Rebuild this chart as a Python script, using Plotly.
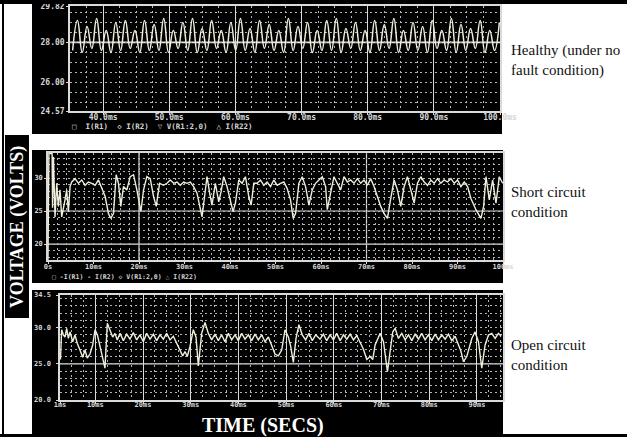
import numpy as np
import plotly.graph_objects as go

W, H = 627, 443

# ---------------- data ----------------
# Panel 1 - healthy: ripple peaks and troughs (V) over the 35-100 ms window
p1_troughs = [27.6, 27.5, 27.7, 27.6, 27.5, 27.6, 27.7, 27.5, 27.6,
              27.6, 27.5, 27.7, 27.6, 27.5, 27.6, 27.7, 27.5, 27.6,
              27.6, 27.5, 27.7, 27.6, 27.5, 27.6, 27.7, 27.5, 27.6,
              27.6, 27.5, 27.7, 27.6, 27.5, 27.6, 27.7, 27.5, 27.6,
              27.6, 27.5, 27.7, 27.6, 27.5, 27.6, 27.7, 27.5, 27.6]
p1_peaks = [29.1, 28.8, 29.2, 28.6, 29.0, 29.1, 28.6, 29.1, 28.9,
            29.2, 28.6, 29.0, 29.2, 28.7, 29.1, 28.6, 29.0, 29.2,
            28.7, 29.1, 28.9, 28.6, 29.2, 28.8, 29.0, 28.6, 29.1,
            29.2, 28.7, 29.0, 28.6, 29.1, 28.9, 29.2, 28.6, 29.0,
            28.8, 29.1, 28.6, 29.2, 28.9, 28.7, 29.1, 28.6, 29.0]
p1_window_ms = [35.4, 99.9]
p1_xrange = [35, 100]
p1_yrange = [24.57, 29.82]
p1_xticks = [40, 50, 60, 70, 80, 90, 100]
p1_xticktext = ["40.0ms", "50.0ms", "60.0ms", "70.0ms", "80.0ms", "90.0ms", "100.0ms"]
p1_yticks = [24.57, 26.0, 28.0, 29.82]
p1_yticktext = ["24.57", "26.00", "28.00", "29.82"]
p1_solid_levels = [28.0]
p1_legend = "□  I(R1)  ◇ I(R2)  ▽ V(R1:2,0)  △ I(R22)"

# Panel 2 - short circuit (time ms, voltage V)
p2_t = [0.0, 0.2, 0.9, 1.0, 1.2, 1.35, 1.54, 1.91, 2.28, 2.64,
        3.01, 3.74, 4.11, 4.48, 4.85, 5.21, 5.95, 6.68, 7.42, 8.15,
        8.88, 9.62, 10.35, 11.09, 11.82, 12.56, 13.29, 13.80, 14.39, 14.98,
        15.49, 16.00, 16.59, 17.33, 18.06, 18.80, 19.53, 20.12, 20.41, 21.00,
        21.73, 22.47, 23.20, 23.79, 24.52, 25.40, 26.14, 26.87, 27.61, 28.34,
        29.07, 29.81, 30.54, 31.28, 32.01, 32.75, 33.33, 33.85, 34.36, 34.95,
        35.53, 36.04, 36.78, 37.52, 38.03, 38.62, 39.35, 40.09, 40.67, 41.19,
        41.92, 42.66, 43.39, 44.13, 44.64, 45.23, 45.96, 46.70, 47.43, 48.17,
        48.90, 49.63, 50.37, 51.10, 51.84, 52.57, 53.30, 53.89, 54.41, 55.14,
        55.87, 56.61, 57.34, 58.08, 58.81, 59.54, 60.28, 61.01, 61.38, 62.11,
        62.85, 63.58, 64.32, 65.05, 65.79, 66.52, 67.25, 67.99, 68.72, 69.46,
        70.19, 70.93, 71.66, 72.39, 73.13, 73.86, 74.60, 75.33, 76.07, 76.80,
        77.53, 78.27, 79.00, 79.74, 80.47, 81.20, 81.94, 82.67, 83.41, 84.14,
        84.88, 85.61, 86.34, 87.08, 87.81, 88.55, 89.28, 90.02, 90.75, 91.48,
        92.22, 92.95, 94.05, 95.15, 95.74, 96.26, 96.99, 97.72, 98.46, 99.19,
        99.93]
p2_v = [17.6, 33.7, 33.7, 25.5, 33.2, 28.0, 24.1, 29.2, 25.7, 28.2,
        24.1, 26.7, 28.2, 24.9, 28.7, 29.4, 29.9, 29.2, 29.7, 28.9,
        29.4, 29.2, 28.9, 29.7, 28.4, 27.2, 24.6, 23.9, 24.6, 30.5,
        29.2, 25.7, 28.7, 28.2, 30.2, 30.5, 28.2, 26.2, 24.9, 28.2,
        30.2, 29.9, 27.2, 25.7, 29.2, 28.9, 29.2, 29.7, 29.2, 29.4,
        28.9, 29.4, 29.2, 29.4, 28.7, 27.7, 25.7, 24.1, 26.9, 30.2,
        27.7, 25.9, 29.2, 26.4, 27.9, 30.2, 28.7, 26.7, 24.9, 26.2,
        29.7, 29.2, 30.2, 27.2, 25.9, 29.2, 29.2, 29.7, 28.9, 29.4,
        28.7, 29.7, 28.9, 29.2, 29.4, 28.4, 26.7, 23.9, 24.6, 29.2,
        30.2, 28.7, 25.9, 28.2, 29.2, 29.7, 30.2, 28.7, 25.2, 27.7,
        30.2, 29.2, 28.2, 30.2, 29.4, 29.7, 29.2, 29.9, 29.2, 29.7,
        28.9, 29.9, 28.7, 27.2, 25.7, 24.6, 23.9, 26.9, 29.7, 28.2,
        25.7, 28.7, 30.2, 28.2, 26.2, 29.2, 30.2, 29.4, 28.9, 29.7,
        29.2, 29.9, 29.2, 29.7, 29.4, 29.9, 29.2, 29.7, 28.7, 29.4,
        28.7, 26.9, 25.2, 23.9, 25.7, 30.2, 26.7, 29.7, 26.2, 30.2,
        29.2]
p2_xrange = [0, 100]
p2_yrange = [17.58, 33.79]
p2_xticks = [0, 10, 20, 30, 40, 50, 60, 70, 80, 90, 100]
p2_xticktext = ["0s", "10ms", "20ms", "30ms", "40ms", "50ms", "60ms", "70ms", "80ms", "90ms", "100ms"]
p2_yticks = [20, 25, 30]
p2_yticktext = ["20", "25", "30"]
p2_solid_levels = [20, 25]
p2_solid_times = [20, 70]
p2_legend = "□ -I(R1) - I(R2) ◇ V(R1:2,0) △ I(R22)"

# Panel 3 - open circuit (time ms, voltage V)
p3_t = [2.7, 2.95, 3.30, 3.65, 4.00, 4.35, 4.70, 5.26, 5.74, 6.23,
        6.79, 7.35, 7.84, 8.32, 8.89, 9.45, 9.94, 10.43, 10.99, 11.55,
        12.03, 12.52, 13.08, 13.64, 14.13, 14.60, 15.18, 15.88, 16.58, 17.27,
        17.97, 18.67, 19.37, 20.07, 20.77, 21.47, 22.17, 22.87, 23.56, 24.26,
        24.96, 25.66, 26.36, 27.06, 27.76, 28.32, 28.81, 29.29, 29.85, 30.55,
        31.11, 31.60, 32.30, 33.00, 33.70, 34.40, 35.09, 35.79, 36.49, 37.19,
        37.89, 38.59, 39.29, 39.99, 40.69, 41.38, 42.08, 42.78, 43.48, 44.18,
        44.88, 45.58, 46.28, 46.97, 47.67, 48.37, 49.07, 49.77, 50.47, 50.96,
        51.52, 52.08, 52.69, 53.39, 54.09, 54.79, 55.49, 56.20, 57.11, 57.81,
        58.51, 59.22, 59.92, 60.62, 61.32, 62.02, 62.72, 63.42, 64.12, 64.81,
        65.51, 66.21, 66.91, 67.61, 68.17, 68.66, 69.71, 70.41, 70.83, 71.25,
        71.80, 72.36, 72.85, 73.55, 74.25, 74.95, 75.65, 76.35, 77.04, 77.74,
        78.44, 79.14, 79.84, 80.54, 81.24, 81.94, 82.64, 83.33, 84.03, 84.73,
        85.43, 86.13, 86.62, 87.18, 87.88, 88.93, 89.62, 90.32, 91.02, 91.72,
        92.42, 93.12, 93.82, 94.52, 95.08]
p3_v = [25.6, 29.7, 29.0, 28.7, 29.9, 28.5, 29.4, 28.05, 28.97, 27.8,
        26.9, 25.9, 26.9, 25.8, 26.35, 27.6, 29.7, 29.0, 27.4, 25.5,
        24.4, 30.6, 29.7, 28.7, 29.2, 28.3, 29.2, 28.2, 29.1, 28.4,
        29.3, 28.3, 29.0, 28.05, 29.2, 28.4, 29.1, 28.2, 29.0, 28.4,
        29.2, 28.3, 28.8, 27.8, 26.7, 26.1, 26.7, 26.0, 27.4, 29.7,
        28.7, 24.7, 29.2, 30.7, 29.2, 28.3, 29.1, 28.2, 29.0, 28.05,
        29.2, 28.3, 29.0, 28.2, 29.2, 28.4, 29.0, 28.2, 29.1, 28.3,
        29.0, 28.05, 28.7, 27.6, 26.35, 26.1, 26.9, 29.7, 28.7, 27.4,
        25.2, 28.5, 30.4, 29.0, 28.3, 29.2, 28.2, 29.0, 28.4, 29.1,
        28.2, 29.0, 28.3, 29.2, 28.2, 29.0, 28.4, 29.1, 28.3, 28.9,
        28.0, 27.0, 25.6, 26.0, 25.6, 27.6, 29.2, 28.05, 26.0, 23.9,
        26.7, 29.4, 29.9, 28.5, 29.2, 28.3, 29.0, 28.2, 29.1, 28.4,
        29.2, 28.3, 29.0, 28.2, 29.1, 28.3, 29.0, 28.4, 29.1, 28.2,
        28.8, 27.6, 26.8, 25.3, 26.0, 28.5, 29.4, 28.05, 24.4, 27.6,
        28.97, 29.2, 28.5, 29.2, 28.8]
p3_xrange = [2.6, 95.47]
p3_yrange = [20, 34.5]
p3_xticks = [2.6, 10, 20, 30, 40, 50, 60, 70, 80, 90]
p3_xticktext = ["1ms", "10ms", "20ms", "30ms", "40ms", "50ms", "60ms", "70ms", "80ms", "90ms"]
p3_yticks = [20, 25, 30, 34.5]
p3_yticktext = ["20.0", "25.0", "30.0", "34.5"]
p3_solid_levels = [25]

panel_labels = ["Healthy (under no<br>fault condition)",
                "Short circuit<br>condition",
                "Open circuit<br>condition"]
y_title = "VOLTAGE (VOLTS)"
x_title = "TIME (SECS)"

# ---------------- helpers ----------------
def px(x):
    return x / W

def py(y):
    return 1 - y / H

TRACE = "#efeedb"
GRID_MINOR = "#b4b4b4"
GRID_MAJOR = "#dadada"
TICKFONT = dict(family="DejaVu Sans Mono", size=8, color="#d6d6d6", weight="bold")
TICKFONT_S = dict(family="DejaVu Sans Mono", size=7, color="#d6d6d6", weight="bold")


def axis(rng, dom, tickvals, ticktext, minor_vals, font, anchor, major_grid=False, standoff=0):
    return dict(
        range=rng, domain=dom, anchor=anchor, tickmode="array", tickvals=tickvals, ticktext=ticktext,
        showgrid=major_grid, gridcolor=GRID_MAJOR, gridwidth=1,
        showline=True, mirror=True, linecolor=GRID_MAJOR, linewidth=1.5,
        zeroline=False, automargin=False, fixedrange=True,
        ticks="outside", ticklen=2, tickcolor=GRID_MAJOR, tickfont=font,
        ticklabelstandoff=standoff,
        minor=dict(tickmode="array", tickvals=list(minor_vals), showgrid=True,
                   gridcolor=GRID_MINOR, gridwidth=1, griddash="2px,3px", ticks=""),
    )


p1_v = []
for tr, pk in zip(p1_troughs, p1_peaks):
    p1_v += [tr, pk]
p1_t = np.linspace(p1_window_ms[0], p1_window_ms[1], len(p1_v))

fig = go.Figure()
fig.add_trace(go.Scatter(x=p1_t, y=p1_v, xaxis="x", yaxis="y", mode="lines",
                         line=dict(color=TRACE, width=1.5, shape="spline", smoothing=1.3),
                         hoverinfo="skip", showlegend=False))
fig.add_trace(go.Scatter(x=p2_t, y=p2_v, xaxis="x2", yaxis="y2", mode="lines",
                         line=dict(color=TRACE, width=1.4), hoverinfo="skip", showlegend=False))
fig.add_trace(go.Scatter(x=p3_t, y=p3_v, xaxis="x3", yaxis="y3", mode="lines",
                         line=dict(color=TRACE, width=1.4), hoverinfo="skip", showlegend=False))

fig.update_layout(
    width=W, height=H, margin=dict(l=0, r=0, t=0, b=0),
    paper_bgcolor="white", plot_bgcolor="black", showlegend=False,
    xaxis=axis(p1_xrange, [px(70), px(500)], p1_xticks, p1_xticktext,
               np.arange(35, 100.01, 2.5), TICKFONT, "y", major_grid=True, standoff=-4),
    yaxis=axis(p1_yrange, [py(111), py(6)], p1_yticks, p1_yticktext,
               np.arange(25.0, 29.81, 0.5), TICKFONT, "x", standoff=0),
    xaxis2=axis(p2_xrange, [px(48), px(503)], p2_xticks, p2_xticktext,
                np.arange(0, 100.1, 2), TICKFONT_S, "y2", standoff=-3),
    yaxis2=axis(p2_yrange, [py(260), py(153)], p2_yticks, p2_yticktext,
                np.arange(18, 33.6, 1), TICKFONT_S, "x2", standoff=0),
    xaxis3=axis(p3_xrange, [px(60), px(503)], p3_xticks, p3_xticktext,
                np.arange(5, 95.4, 2.5), TICKFONT_S, "y3", major_grid=True, standoff=-5),
    yaxis3=axis(p3_yrange, [py(400), py(295)], p3_yticks, p3_yticktext,
                np.arange(21, 34.4, 1), TICKFONT_S, "x3", standoff=4),
)

shapes = []


def rect(x0, y0, x1, y1, color="black", layer="below"):
    shapes.append(dict(type="rect", xref="paper", yref="paper",
                       x0=px(x0), x1=px(x1), y0=py(y1), y1=py(y0),
                       fillcolor=color, line=dict(width=0), layer=layer))


# panel backgrounds and outer frame
rect(32, 3, 502, 134)
rect(32, 150, 503, 283)
rect(32, 290, 503, 436)
rect(5, 135, 29, 318)
rect(0, 0, W, 4, layer="above")
rect(2, 0, 4, 437, layer="above")
rect(0, 434, W, 437, layer="above")

# solid reference grid lines
for lvl in p1_solid_levels:
    shapes.append(dict(type="line", xref="x", yref="y", x0=p1_xrange[0], x1=p1_xrange[1],
                       y0=lvl, y1=lvl, line=dict(color="#e6e6e6", width=1.6), layer="below"))
for lvl in p2_solid_levels:
    shapes.append(dict(type="line", xref="x2", yref="y2", x0=p2_xrange[0], x1=p2_xrange[1],
                       y0=lvl, y1=lvl, line=dict(color=GRID_MAJOR, width=1.2), layer="below"))
for t in p2_solid_times:
    shapes.append(dict(type="line", xref="x2", yref="y2", x0=t, x1=t,
                       y0=p2_yrange[0], y1=p2_yrange[1],
                       line=dict(color=GRID_MAJOR, width=1.2), layer="below"))
for lvl in p3_solid_levels:
    shapes.append(dict(type="line", xref="x3", yref="y3", x0=p3_xrange[0], x1=p3_xrange[1],
                       y0=lvl, y1=lvl, line=dict(color=GRID_MAJOR, width=1.2), layer="below"))
fig.update_layout(shapes=shapes)

ann = []
ann.append(dict(text=p1_legend, x=px(70), y=py(127), xref="paper", yref="paper",
                xanchor="left", yanchor="middle", showarrow=False,
                font=dict(family="DejaVu Sans Mono", size=7.5, color="#d6d6d6", weight="bold")))
ann.append(dict(text=p2_legend, x=px(50), y=py(277), xref="paper", yref="paper",
                xanchor="left", yanchor="middle", showarrow=False,
                font=dict(family="DejaVu Sans Mono", size=6.5, color="#d6d6d6", weight="bold")))
for lab, yc in zip(panel_labels, [61, 202, 355]):
    ann.append(dict(text=lab, x=px(509), y=py(yc), xref="paper", yref="paper",
                    xanchor="left", yanchor="middle", align="left", showarrow=False,
                    font=dict(family="Liberation Serif", size=15, color="#111111")))
ann.append(dict(text="<b>" + y_title + "</b>", x=px(17), y=py(227), xref="paper", yref="paper",
                xanchor="center", yanchor="middle", textangle=-90, showarrow=False,
                font=dict(family="Liberation Serif", size=18, color="white")))
ann.append(dict(text="<b>" + x_title + "</b>", x=px(263), y=py(425), xref="paper", yref="paper",
                xanchor="center", yanchor="middle", showarrow=False,
                font=dict(family="Liberation Serif", size=20, color="white")))
fig.update_layout(annotations=ann)

fig.write_html("out.html", config={"displayModeBar": False},
               post_script="document.body.style.margin='0px';")
